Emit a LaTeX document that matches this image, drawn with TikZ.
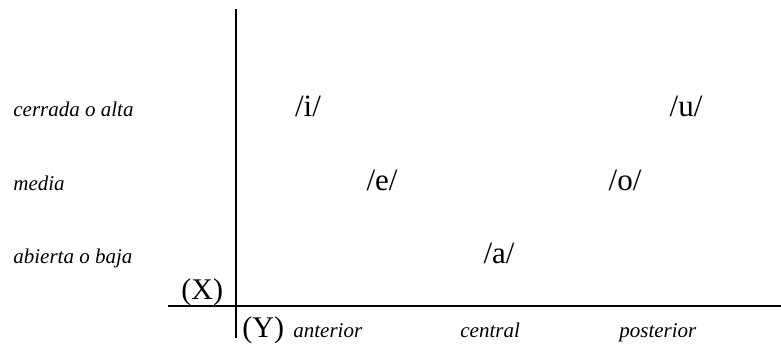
\documentclass[tikz,border=0pt]{standalone}
\usepackage{fontspec}
\setmainfont{Liberation Serif}
\begin{document}
\begin{tikzpicture}[x=0.5pt,y=-0.5pt,
  rowlabel/.style={anchor=base west,font=\fontsize{10.5}{12}\selectfont\itshape,inner sep=0pt},
  collabel/.style={anchor=base west,font=\fontsize{10.5}{12}\selectfont\itshape,inner sep=0pt},
  vowel/.style={anchor=base,font=\fontsize{15.5}{17}\selectfont,inner sep=0pt},
  axislabel/.style={anchor=base west,font=\fontsize{15}{17}\selectfont,inner sep=0pt}]
\useasboundingbox (0,0) rectangle (781,343);

\draw[line width=1pt] (236,9) -- (236,338);
\draw[line width=1pt] (168,306) -- (781,306);

\node[rowlabel] (alta) at (13,116) {cerrada o alta};
\node[rowlabel] (media) at (13,190) {media};
\node[rowlabel] (baja) at (13,263) {abierta o baja};

\node[axislabel] (X) at (181,299) {(X)};
\node[axislabel] (Y) at (242,337) {(Y)};

\node[collabel] (anterior) at (293,337) {anterior};
\node[collabel] (central) at (460,337) {central};
\node[collabel] (posterior) at (619,337) {posterior};

\node[vowel] (i) at (308,116) {/i/};
\node[vowel] (u) at (686,116) {/u/};
\node[vowel] (e) at (382,190) {/e/};
\node[vowel] (o) at (625,190) {/o/};
\node[vowel] (a) at (499,263) {/a/};
\end{tikzpicture}
\end{document}
